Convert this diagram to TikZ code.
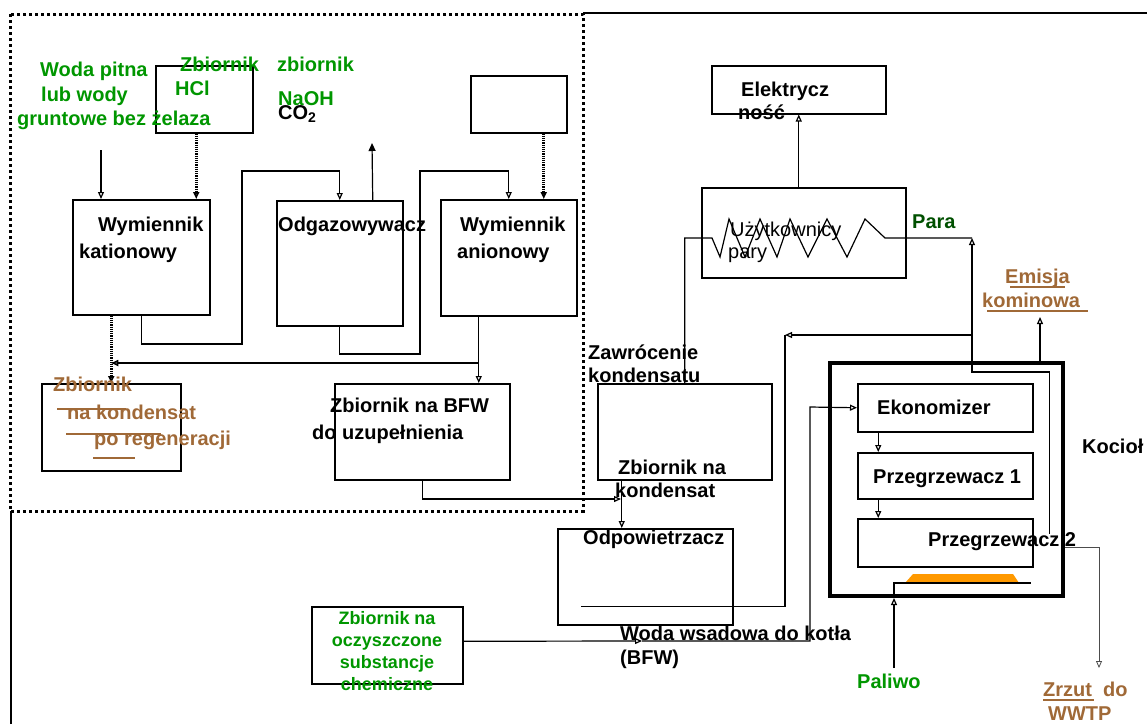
\documentclass[tikz,border=0pt]{standalone}
\usepackage{fontspec}
\setmainfont{Liberation Sans}
\usepackage{xcolor}
\usetikzlibrary{arrows.meta, calc}
\definecolor{watergreen}{RGB}{0,150,0}
\definecolor{steamgreen}{RGB}{0,80,0}
\definecolor{wastebrown}{RGB}{160,105,55}
\definecolor{fuelorange}{RGB}{255,153,0}

\begin{document}
\begin{tikzpicture}[x=1pt, y=-1pt,
  box/.style={draw, line width=1.5pt, inner sep=0pt, anchor=north west},
  txt/.style={font=\bfseries\fontsize{20}{24}\selectfont, inner sep=0pt, anchor=base west},
  plain/.style={font=\fontsize{20}{24}\selectfont, inner sep=0pt, anchor=base west},
  arr/.style={-{Triangle[open, length=7pt, width=6pt]}, line width=1.2pt},
  dotarr/.style={-{Triangle[open, length=7pt, width=6pt]}, line width=2.6pt,
                 dash pattern=on 1.2pt off 1pt},
  link/.style={line width=1.2pt},
]
\useasboundingbox (0,0) rectangle (1147,724);

% frames
\draw[line width=2pt] (11,724) -- (11,511);
\draw[line width=2pt] (583,13) -- (1147,13);
\draw[line width=3pt, dash pattern=on 3pt off 3pt] (10,14) rectangle (583,511);

% water treatment
\node[box, minimum width=97pt, minimum height=67pt] (hcl) at (155,65) {};
\node[box, minimum width=96pt, minimum height=57pt] (naoh) at (470,75) {};
\node[box, minimum width=137pt, minimum height=115pt] (kat) at (72,199) {};
\node[box, minimum width=126pt, minimum height=125pt] (odg) at (276,200) {};
\node[box, minimum width=136pt, minimum height=116pt] (ani) at (440,199) {};
\node[box, minimum width=139pt, minimum height=87pt] (reg) at (41,383) {};
\node[box, minimum width=175pt, minimum height=96pt] (bfw) at (334,383) {};

% condensate and feed water
\node[box, minimum width=174pt, minimum height=96pt] (kond) at (597,383) {};
\node[box, minimum width=175pt, minimum height=96pt] (odp) at (557,528) {};
\node[box, minimum width=151pt, minimum height=77pt] (chem) at (311,606) {};

% steam users
\node[box, minimum width=174pt, minimum height=48pt] (elek) at (711,65) {};
\node[box, minimum width=204pt, minimum height=90pt] (uzyt) at (701,187) {};

% boiler
\node[box, line width=4pt, minimum width=233pt, minimum height=233pt] (kociol) at (828,361) {};
\node[box, minimum width=175pt, minimum height=48pt] (eko) at (857,383) {};
\node[box, minimum width=175pt, minimum height=46pt] (prz1) at (857,452) {};
\node[box, minimum width=175pt, minimum height=48pt] (prz2) at (857,518) {};
\fill[fuelorange] (905,583) -- (913,574) -- (1013,574) -- (1019,583) -- cycle;

\coordinate (wodain) at (101,150);
\coordinate (co2out) at (372,143);
\coordinate (split) at (478,363);
\coordinate (mix) at (621,499);
\coordinate (steam) at (972,238);
\coordinate (ret) at (972,335);
\coordinate (bfwin) at (642,641);
\coordinate (emis) at (1040,317);
\coordinate (fuel) at (894,668);
\coordinate (wwtp) at (1099,668);

% connectors, water treatment
\draw[arr] (wodain) -- (wodain |- kat.north);
\draw[dotarr] ([xshift=-8pt]hcl.south) -- ([xshift=-8pt]hcl.south |- kat.north);
\draw[arr] (kat.south) |- (242,344) -- (242,171) -| (odg.north);
\draw[link, -{Triangle[length=8pt, width=7pt]}] ([xshift=33pt]odg.north) -- (co2out);
\draw[arr] (odg.south) |- (420,354) -- (420,171) -| (ani.north);
\draw[dotarr] ([xshift=25pt]naoh.south) -- ([xshift=25pt]naoh.south |- ani.north);
\draw[arr] ([xshift=-30pt]ani.south) -- ([xshift=-30pt]ani.south |- bfw.north);
\draw[arr, line width=1.6pt] (split) -- (split -| reg.north);
\draw[dotarr] ([xshift=-30pt]kat.south) -- ([xshift=-30pt]kat.south |- reg.north);
\draw[arr] (bfw.south) |- (mix);
\draw[arr] ([xshift=-63pt]kond.south) -- ([xshift=-63pt]kond.south |- odp.north);

% connectors, steam side
\draw[link] (kond.north) |- (712,238) -- (720,257) -- (729,219) -- (745,257)
  -- (760,219) -- (777,257) -- (790,219) -- (808,257) -- (827,219)
  -- (847,257) -- (865,219) -- (885,238) -- (steam);
\draw[arr] ([xshift=16pt, yshift=9pt]prz2.east) |- (972,372) -- (steam);
\draw[arr] ([xshift=-5pt]uzyt.north) -- ([xshift=-5pt]uzyt.north |- elek.south);
\draw[arr] (ret) -- (785,335);
\draw[link] (785,335) |- ([xshift=24pt, yshift=19pt]odp.south west);
\draw[arr] ([yshift=4pt]chem.east) -- (bfwin);
\draw[arr] (bfwin) -| (810,407) -- (eko.west);
\draw[arr] ([xshift=-67pt]eko.south) -- ([xshift=-67pt]eko.south |- prz1.north);
\draw[arr] ([xshift=-67pt]prz1.south) -- ([xshift=-67pt]prz1.south |- prz2.north);
\draw[arr] (kociol.north -| emis) -- (emis);
\draw[arr] (fuel) -- (fuel |- kociol.south);
\draw[link] (fuel |- kociol.south) -- (894,583) -- (1031,583);
\draw[arr, line width=0.8pt, black!70] ([xshift=31pt, yshift=-5pt]prz2.east) -| (wwtp);

% labels
\node[txt, watergreen] (woda1) at (40,76) {Woda pitna};
\node[txt, watergreen] (woda2) at (41,101) {lub wody};
\node[txt, watergreen] (woda3) at (17,125) {gruntowe bez żelaza};
\node[txt, watergreen] (hcl1) at (180,71) {Zbiornik};
\node[txt, watergreen] (hcl2) at (175,95) {HCl};
\node[txt, watergreen] (naoh1) at (277,71) {zbiornik};
\node[txt, watergreen] (naoh2) at (278,105) {NaOH};
\node[txt] (co2) at (278,119) {CO\textsubscript{2}};
\node[txt] (kat1) at (98,231) {Wymiennik};
\node[txt] (kat2) at (79,258) {kationowy};
\node[txt] (odg1) at (278,231) {Odgazowywacz};
\node[txt] (ani1) at (460,231) {Wymiennik};
\node[txt] (ani2) at (457,258) {anionowy};
\node[txt, wastebrown] (reg1) at (53,391) {Zbiornik};
\node[txt, wastebrown] (reg2) at (67,419) {na kondensat};
\node[txt, wastebrown] (reg3) at (94,445) {po regeneracji};
\draw[wastebrown, line width=2pt] (57,409) -- (126,409);
\draw[wastebrown, line width=2pt] (66,434) -- (161,434);
\draw[wastebrown, line width=2pt] (93,458) -- (135,458);
\node[txt] (bfw1) at (330,412) {Zbiornik na BFW};
\node[txt] (bfw2) at (312,439) {do uzupełnienia};
\node[txt] (zaw1) at (588,359) {Zawrócenie};
\node[txt] (zaw2) at (588,382) {kondensatu};
\node[txt] (kond1) at (618,474) {Zbiornik na};
\node[txt] (kond2) at (615,497) {kondensat};
\node[txt] (odp1) at (583,544) {Odpowietrzacz};
\node[txt] (wsad1) at (620,640) {Woda wsadowa do kotła};
\node[txt] (wsad2) at (620,664) {(BFW)};
\node[font=\bfseries\fontsize{18}{22}\selectfont, watergreen, align=center, inner sep=0pt]
  (chem1) at (387,651) {Zbiornik na\\oczyszczone\\substancje\\chemiczne};
\node[txt] (elek1) at (741,96) {Elektrycz};
\node[txt] (elek2) at (738,119) {ność};
\node[plain] (uzyt1) at (730,236) {Użytkownicy};
\node[plain] (uzyt2) at (728,258) {pary};
\node[txt, steamgreen] (para) at (912,228) {Para};
\node[txt, wastebrown] (emis1) at (1005,283) {Emisja};
\node[txt, wastebrown] (emis2) at (982,307) {kominowa};
\draw[wastebrown, line width=1.2pt] (1010,287) -- (1065,287);
\draw[wastebrown, line width=1.2pt] (987,311) -- (1088,311);
\node[txt] (eko1) at (877,414) {Ekonomizer};
\node[txt] (prz11) at (873,483) {Przegrzewacz 1};
\node[txt] (prz21) at (928,546) {Przegrzewacz 2};
\node[txt] (koc1) at (1082,453) {Kocioł};
\node[txt, watergreen] (pal) at (857,688) {Paliwo};
\node[txt, wastebrown] (zrz1) at (1043,696) {Zrzut};
\node[txt, wastebrown] (zrz2) at (1103,696) {do};
\node[txt, wastebrown] (zrz3) at (1048,720) {WWTP};
\draw[wastebrown, line width=1.5pt] (1043,700) -- (1094,700);
\end{tikzpicture}
\end{document}
